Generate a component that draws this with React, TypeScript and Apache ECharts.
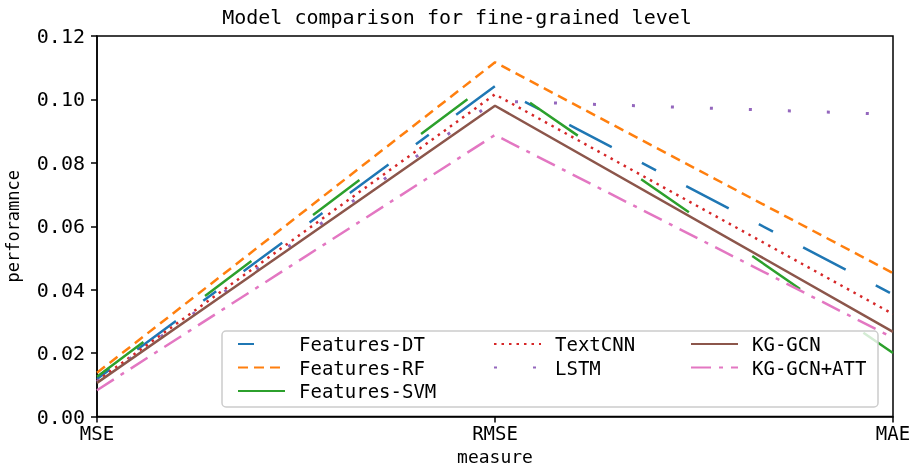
import React, { useEffect, useRef } from "react";
import * as echarts from "echarts";

const categories = ["MSE", "RMSE", "MAE"];
const seriesNames = ["Features-DT", "Features-RF", "Features-SVM", "TextCNN", "LSTM", "KG-GCN", "KG-GCN+ATT"];
const featuresDT = [0.0118, 0.1042, 0.0385];
const featuresRF = [0.0138, 0.1117, 0.0452];
const featuresSVM = [0.0125, 0.1066, 0.02];
const textCNN = [0.0112, 0.1016, 0.0323];
const lstm = [0.011, 0.0995, 0.0953];
const kgGCN = [0.0106, 0.098, 0.0267];
const kgGCNATT = [0.0083, 0.0888, 0.0248];

const FONT = "DejaVu Sans Mono";

export default function App() {
  const ref = useRef<HTMLDivElement>(null);
  useEffect(() => {
    if (!ref.current) return;
    const chart = echarts.init(ref.current, null, { renderer: "svg" });
    const values = [featuresDT, featuresRF, featuresSVM, textCNN, lstm, kgGCN, kgGCNATT];
    const colors = ["#1f77b4", "#ff7f0e", "#2ca02c", "#d62728", "#9467bd", "#8c564b", "#e377c2"];
    const dashes: any[] = [
      [16, 34, 48, 34],
      [10, 6],
      [58, 77],
      [2.5, 5],
      [3, 36],
      "solid",
      [20, 8, 4, 8],
    ];
    const widths = [2.5, 2.5, 2.5, 2.5, 3, 2.5, 2.5];
    const series = seriesNames.map((name, i) => ({
      name,
      type: "line",
      data: values[i],
      showSymbol: false,
      symbol: "none",
      color: colors[i],
      lineStyle: { color: colors[i], width: widths[i], type: dashes[i], cap: "butt" },
      z: 2,
    }));
    const legendBase = {
      orient: "vertical",
      itemWidth: 47,
      itemHeight: 14,
      itemGap: 3.5,
      itemStyle: { opacity: 0 },
      textStyle: { fontFamily: FONT, fontSize: 19, color: "#000", lineHeight: 20, padding: [0, 0, 0, 9] },
      top: 329,
      z: 10,
    };
    chart.setOption({
      animation: false,
      title: {
        text: "Model comparison for fine-grained level",
        left: "center",
        top: 2,
        textStyle: { fontFamily: FONT, fontSize: 20, fontWeight: "normal", color: "#000" },
      },
      grid: {
        left: 97,
        right: 21,
        top: 36,
        bottom: 50.5,
        outerBoundsMode: "none",
        containLabel: false,
        show: true,
        borderColor: "#000",
        borderWidth: 1.5,
        backgroundColor: "transparent",
      },
      xAxis: {
        type: "category",
        data: categories,
        boundaryGap: false,
        name: "measure",
        nameLocation: "middle",
        nameGap: 29,
        nameTextStyle: { fontFamily: FONT, fontSize: 18, color: "#000" },
        axisLine: { lineStyle: { color: "#000", width: 1.5 } },
        axisTick: { show: true, length: 6, lineStyle: { color: "#000", width: 1.5 } },
        axisLabel: { fontFamily: FONT, fontSize: 19, color: "#000", margin: 7 },
        splitLine: { show: false },
      },
      yAxis: {
        type: "value",
        min: 0,
        max: 0.12,
        interval: 0.02,
        name: "perforamnce",
        nameLocation: "middle",
        nameGap: 76,
        nameTextStyle: { fontFamily: FONT, fontSize: 17, color: "#000" },
        axisLine: { show: true, lineStyle: { color: "#000", width: 1.5 } },
        axisTick: { show: true, length: 6, lineStyle: { color: "#000", width: 1.5 } },
        axisLabel: {
          fontFamily: FONT,
          fontSize: 20,
          color: "#000",
          margin: 12,
          formatter: (v: number) => v.toFixed(2),
        },
        splitLine: { show: false },
      },
      legend: [
        { ...legendBase, left: 232, data: seriesNames.slice(0, 3) },
        { ...legendBase, left: 488, data: seriesNames.slice(3, 5) },
        { ...legendBase, left: 685, data: seriesNames.slice(5, 7) },
      ],
      graphic: [
        {
          type: "rect",
          z: 5,
          shape: { x: 222, y: 331, width: 656, height: 76, r: 4 },
          style: { fill: "rgba(255,255,255,0.8)", stroke: "#cccccc", lineWidth: 1.5 },
        },
      ],
      series,
    });
    return () => chart.dispose();
  }, []);
  return <div ref={ref} style={{ width: 914, height: 467, position: "fixed", left: 0, top: 0 }} />;
}
